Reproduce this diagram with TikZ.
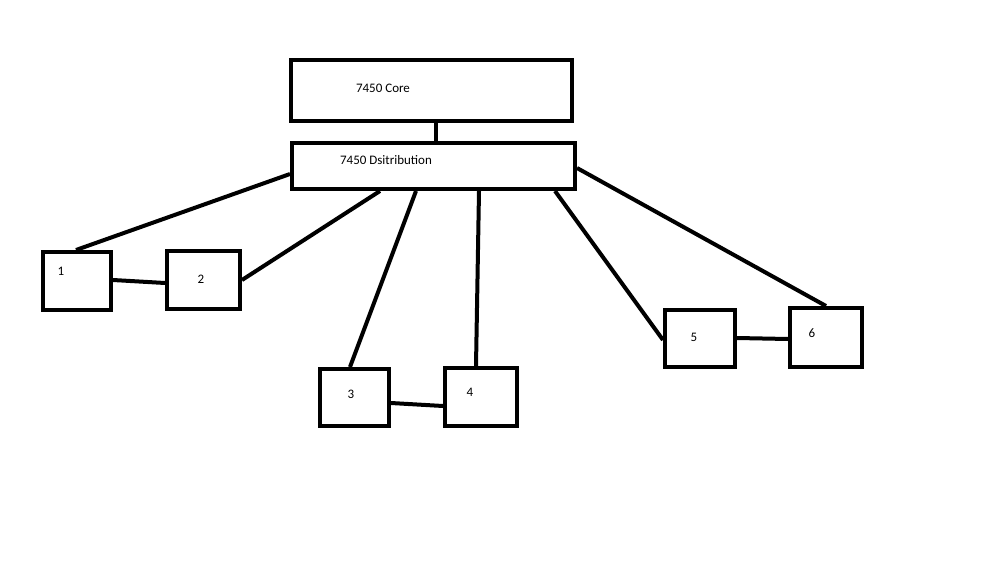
\documentclass[tikz,border=0pt]{standalone}
\usepackage{fontspec}
\setmainfont{Carlito}
\begin{document}
\begin{tikzpicture}[x=1pt,y=-1pt,line width=4pt,
  box/.style={draw,line width=4pt,minimum width=#1,inner sep=0pt,anchor=north west},
  lbl/.style={font=\fontsize{13}{15}\selectfont}]
\useasboundingbox (0,0) rectangle (999,562);
\node[box=281pt,minimum height=61pt] (core) at (289,58) {};
\node[box=283pt,minimum height=46pt] (dist) at (290,141) {};
\node[box=68pt,minimum height=58pt] (b1) at (41,250) {};
\node[box=73pt,minimum height=58pt] (b2) at (165,249) {};
\node[box=69pt,minimum height=57pt] (b3) at (318,367) {};
\node[box=72pt,minimum height=58pt] (b4) at (443,366) {};
\node[box=70pt,minimum height=57pt] (b5) at (663,308) {};
\node[box=72pt,minimum height=59pt] (b6) at (788,306) {};
\node[lbl] (tcore) at (383,88) {7450 Core};
\node[lbl] (tdist) at (386,160) {7450 Dsitribution};
\node[lbl] (t1) at (61,271) {1};
\node[lbl] (t2) at (201,279) {2};
\node[lbl] (t3) at (351,394) {3};
\node[lbl] (t4) at (470,392) {4};
\node[lbl] (t5) at (694,337) {5};
\node[lbl] (t6) at (812,333) {6};
\draw ([xshift=147pt]core.south west) -- ([xshift=146pt]dist.north west);
\draw ([yshift=17pt]dist.south west) -- ([xshift=35pt]b1.north west);
\draw ([xshift=90pt]dist.south west) -- ([yshift=-31pt]b2.north east);
\draw ([xshift=126pt]dist.south west) -- ([xshift=32pt]b3.north west);
\draw ([xshift=189pt]dist.south west) -- ([xshift=33pt]b4.north west);
\draw ([xshift=265pt]dist.south west) -- ([yshift=-32pt]b5.north west);
\draw ([yshift=-27pt]dist.north east) -- ([xshift=38pt]b6.north west);
\draw ([yshift=-30pt]b1.north east) -- ([yshift=-34pt]b2.north west);
\draw ([yshift=-36pt]b3.north east) -- ([yshift=-40pt]b4.north west);
\draw ([yshift=-30pt]b5.north east) -- ([yshift=-33pt]b6.north west);
\end{tikzpicture}
\end{document}
